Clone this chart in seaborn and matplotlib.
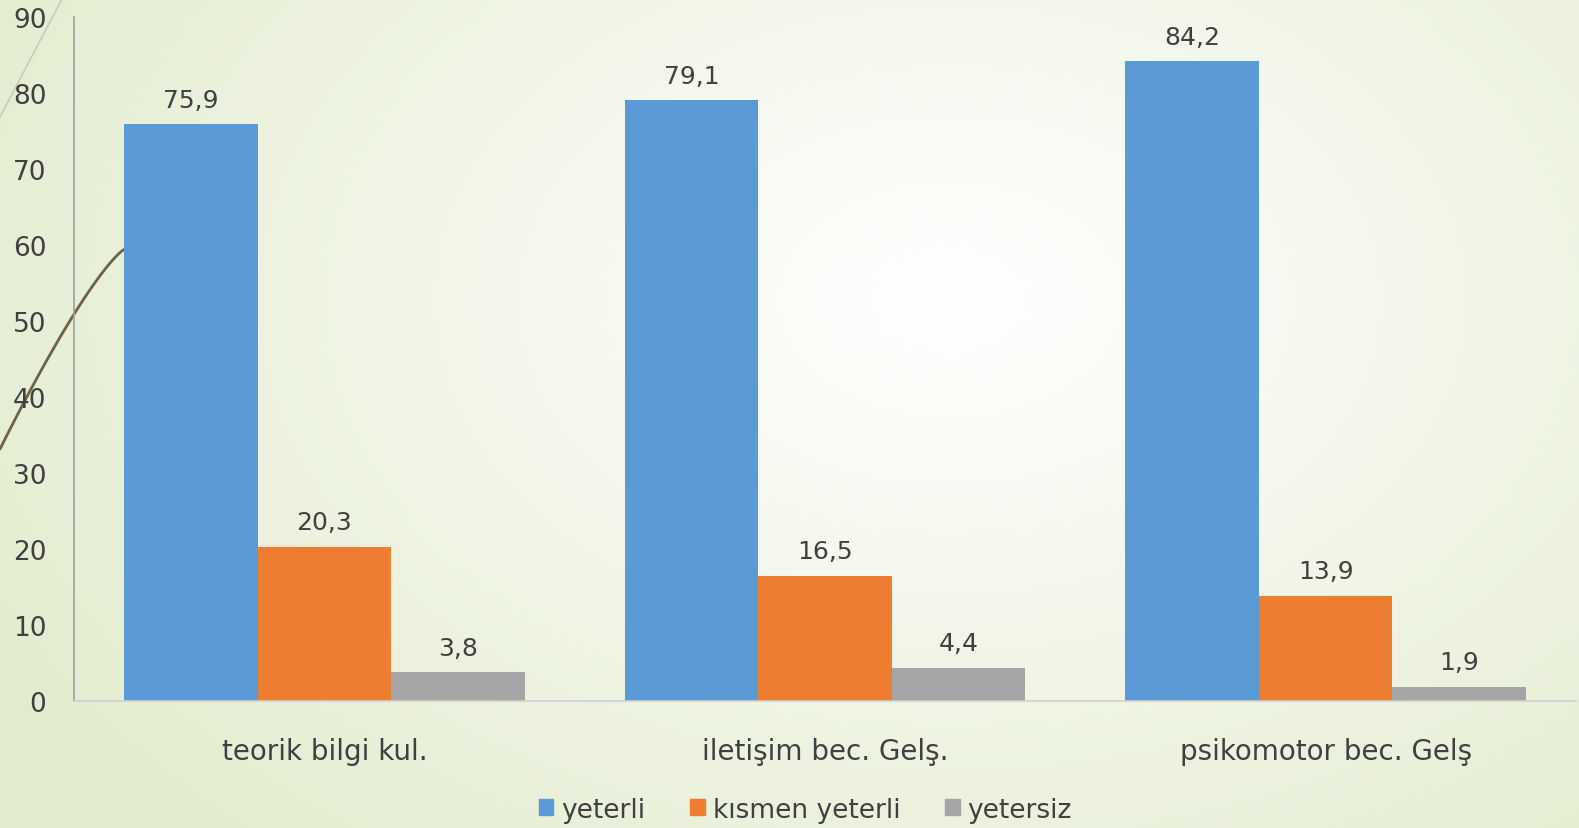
import numpy as np
import pandas as pd
import seaborn as sns
import matplotlib.pyplot as plt
from matplotlib.patches import Rectangle

categories = ["teorik bilgi kul.", "iletişim bec. Gelş.", "psikomotor bec. Gelş"]
series = ["yeterli", "kısmen yeterli", "yetersiz"]
yeterli = [75.9, 79.1, 84.2]
kismen = [20.3, 16.5, 13.9]
yetersiz = [3.8, 4.4, 1.9]
colors = ["#5B9BD5", "#ED7D31", "#A5A5A5"]

rows = []
for name, vals in zip(series, [yeterli, kismen, yetersiz]):
    for cat, v in zip(categories, vals):
        rows.append({"kategori": cat, "grup": name, "deger": v})
df = pd.DataFrame(rows)

sns.set_style("white")
plt.rcParams['font.family'] = ['DejaVu Sans']
txt = "#404040"

fig = plt.figure(figsize=(15.79, 8.29), dpi=100)

# slide background: soft radial gradient
bg = fig.add_axes([0, 0, 1, 1], zorder=-10)
yy, xx = np.mgrid[0:829, 0:1579]
r = np.sqrt(((xx - 950) / 1100.0) ** 2 + ((yy - 300) / 750.0) ** 2)
r = np.clip(r, 0, 1)
c0 = np.array([1.0, 1.0, 1.0])
c1 = np.array([0.89, 0.925, 0.81])
img = c0[None, None, :] * (1 - r[..., None]) + c1[None, None, :] * r[..., None]
bg.imshow(img, aspect="auto", extent=[0, 1579, 829, 0])
bg.plot([0, 62], [118, 0], color="#c9ccbc", lw=1.2)
t = np.linspace(0, 1, 50)
bg.plot(125 * t, 450 - 200 * (1 - (1 - t) ** 1.25), color="#6b6248", lw=2)
bg.set_xlim(0, 1579)
bg.set_ylim(829, 0)
bg.axis("off")

ax = fig.add_axes([0.047, 0.153, 0.951, 0.825])
ax.patch.set_alpha(0)
sns.barplot(data=df, x="kategori", y="deger", hue="grup", palette=colors,
            order=categories, hue_order=series, width=0.8, saturation=1,
            linewidth=0, ax=ax, legend=False)

for cont in ax.containers:
    labels = [f"{b.get_height():.1f}".replace(".", ",") for b in cont]
    ax.bar_label(cont, labels=labels, padding=9, fontsize=18, color=txt)

ax.set_ylim(0, 90)
ax.set_xlim(-0.5, 2.5)
ax.set_yticks(range(0, 91, 10))
ax.tick_params(axis="y", labelsize=19, labelcolor=txt, length=0, pad=20)
ax.tick_params(axis="x", labelsize=20, labelcolor=txt, length=0, pad=26)
ax.set_xlabel("")
ax.set_ylabel("")
for s in ["top", "right"]:
    ax.spines[s].set_visible(False)
ax.spines["left"].set_color("#a0a0a0")
ax.spines["bottom"].set_color("#d0d0d0")
ax.spines["left"].set_linewidth(1.2)
ax.spines["bottom"].set_linewidth(1.2)

handles = [Rectangle((0, 0), 1, 1, color=c) for c in colors]
fig.legend(handles, series, loc="center", bbox_to_anchor=(0.51, 0.022), ncol=3,
           frameon=False, fontsize=19, handlelength=0.55, handleheight=0.55,
           handletextpad=0.3, columnspacing=1.7, labelcolor=txt)

fig.savefig("out.png", dpi=100)
